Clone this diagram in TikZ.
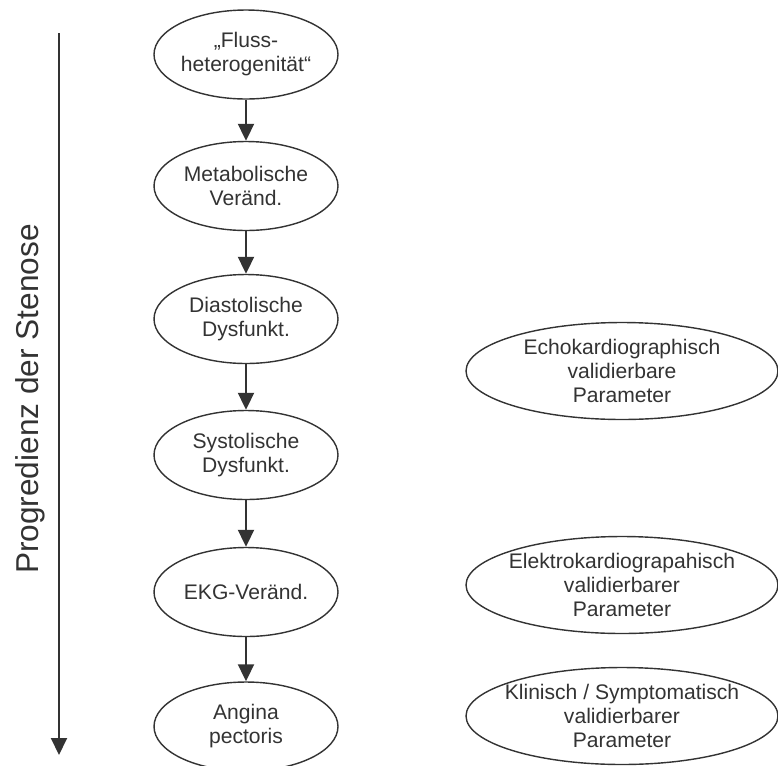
\documentclass[tikz,border=0pt]{standalone}
\usepackage{fontspec}
\setmainfont{Liberation Sans}
\usetikzlibrary{shapes.geometric,arrows.meta}
\definecolor{ink}{HTML}{333333}
\tikzset{
  stage/.style={ellipse,draw=ink,line width=0.8pt,minimum width=3.68cm,minimum height=1.78cm,inner sep=0pt,align=center,text=ink,font=\fontsize{12}{13.7}\selectfont},
  check/.style={stage,minimum width=6.24cm,minimum height=1.94cm,inner xsep=-0.5cm},
  flow/.style={draw=ink,line width=1.1pt,-{Triangle[length=0.34cm,width=0.32cm]}}
}
\begin{document}
\begin{tikzpicture}[x=0.02cm,y=-0.02cm]
        \clip (0,0) rectangle (778,765);
        % stages of the stenosis
        \node[stage] (F) at (246,54.5) {„Fluss-\\heterogenität“};
        \node[stage] (M) at (246,186) {Metabolische\\Veränd.};
        \node[stage] (D) at (246,319) {Diastolische\\Dysfunkt.};
        \node[stage] (S) at (246,455) {Systolische\\Dysfunkt.};
        \node[stage] (E) at (246,592) {EKG-Veränd.};
        \node[stage] (A) at (246,726.5) {Angina\\pectoris};

        \draw[flow] (F) -- (M);
        \draw[flow] (M) -- (D);
        \draw[flow] (D) -- (S);
        \draw[flow] (S) -- (E);
        \draw[flow] (E) -- (A);

        % parameters
        \node[check] (EC) at (622,371) {Echokardiographisch\\validierbare\\Parameter};
        \node[check] (EK) at (622,585) {Elektrokardiograpahisch\\validierbarer\\Parameter};
        \node[check] (KL) at (622,716) {Klinisch / Symptomatisch\\validierbarer\\Parameter};

        % progression axis
        \coordinate (T) at (59,33);
        \coordinate (B) at (59,755);
        \draw[flow] (T) -- (B);
        \node[rotate=90,anchor=base,text=ink,font=\fontsize{18}{20}\selectfont] (P) at (38,399) {Progredienz der Stenose};
\end{tikzpicture}
\end{document}
